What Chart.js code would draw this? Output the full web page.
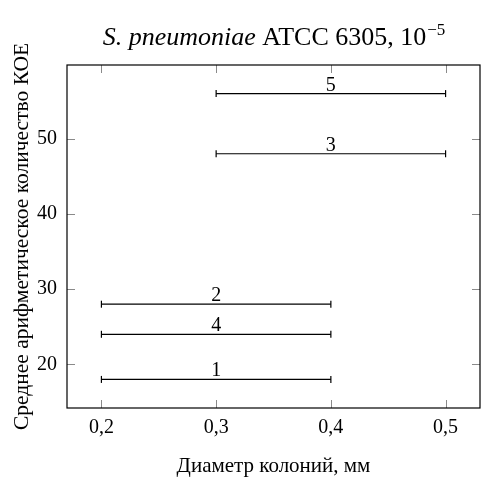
<!DOCTYPE html>
<html>
<head>
<meta charset="utf-8">
<script src="https://cdn.jsdelivr.net/npm/chart.js@4.4.1/dist/chart.umd.min.js"></script>
<style>
  html, body { margin: 0; padding: 0; background: #fff; }
  #wrap { width: 483px; height: 477px; }
</style>
</head>
<body>
<div id="wrap"><canvas id="chart"></canvas></div>
<script>
// interval data
const seriesLabels = ['1', '2', '3', '4', '5'];
const yValues = [18, 28, 48, 24, 56];
const xStart = [0.2, 0.2, 0.3, 0.2, 0.3];
const xEnd = [0.4, 0.4, 0.5, 0.4, 0.5];

const xTicks = [0.2, 0.3, 0.4, 0.5];
const yTicks = [20, 30, 40, 50];

const SERIF = "'Liberation Serif', 'DejaVu Serif', serif";

const datasets = seriesLabels.map((lab, i) => ({
    label: lab,
    data: [{ x: xStart[i], y: yValues[i] }, { x: xEnd[i], y: yValues[i] }],
    showLine: true,
    borderColor: '#000',
    borderWidth: 1.2,
    pointStyle: 'line',
    rotation: 90,
    pointRadius: 3.5,
    pointBorderColor: '#000',
    pointBorderWidth: 1.2,
    pointHoverRadius: 3.5
}));

// frame, inner ticks, labels and titles
const decorations = {
    id: 'decorations',
    afterDatasetsDraw(chart) {
        const ctx = chart.ctx;
        const a = chart.chartArea;
        const xs = chart.scales.x, ys = chart.scales.y;
        ctx.save();

        // inner tick marks on all four sides
        ctx.strokeStyle = '#8a8a8a';
        ctx.lineWidth = 1;
        const t = 8;
        ctx.beginPath();
        xTicks.forEach(v => {
            const px = Math.round(xs.getPixelForValue(v)) + 0.5;
            ctx.moveTo(px, a.bottom); ctx.lineTo(px, a.bottom - t);
            ctx.moveTo(px, a.top); ctx.lineTo(px, a.top + t);
        });
        yTicks.forEach(v => {
            const py = Math.round(ys.getPixelForValue(v)) + 0.5;
            ctx.moveTo(a.left, py); ctx.lineTo(a.left + t, py);
            ctx.moveTo(a.right, py); ctx.lineTo(a.right - t, py);
        });
        ctx.stroke();

        // frame
        ctx.strokeStyle = '#000';
        ctx.lineWidth = 1.2;
        ctx.strokeRect(a.left, a.top, a.right - a.left, a.bottom - a.top);

        // series labels above the middle of each interval
        ctx.fillStyle = '#000';
        ctx.font = '20px ' + SERIF;
        ctx.textAlign = 'center';
        ctx.textBaseline = 'alphabetic';
        seriesLabels.forEach((lab, i) => {
            const mx = xs.getPixelForValue((xStart[i] + xEnd[i]) / 2);
            const my = ys.getPixelForValue(yValues[i]);
            ctx.fillText(lab, mx, my - 3);
        });

        // axis titles
        ctx.textBaseline = 'middle';
        ctx.font = '21px ' + SERIF;
        ctx.fillText('Диаметр колоний, мм', (a.left + a.right) / 2, 466);
        ctx.save();
        ctx.translate(22, (a.top + a.bottom) / 2);
        ctx.rotate(-Math.PI / 2);
        ctx.font = '21.5px ' + SERIF;
        ctx.fillText('Среднее арифметическое количество КОЕ', 0, 0);
        ctx.restore();

        // chart title with italic species name and superscript
        const p1 = 'S. pneumoniae', p2 = ' ATCC 6305, 10', p3 = '−5';
        const f1 = 'italic 26px ' + SERIF, f2 = '26px ' + SERIF, f3 = '17px ' + SERIF;
        ctx.font = f1; const w1 = ctx.measureText(p1).width;
        ctx.font = f2; const w2 = ctx.measureText(p2).width;
        ctx.font = f3; const w3 = ctx.measureText(p3).width;
        let x0 = (a.left + a.right) / 2 - (w1 + w2 + w3) / 2;
        const by = 45;
        ctx.textAlign = 'left';
        ctx.textBaseline = 'alphabetic';
        ctx.font = f1; ctx.fillText(p1, x0, by); x0 += w1;
        ctx.font = f2; ctx.fillText(p2, x0, by); x0 += w2;
        ctx.font = f3; ctx.fillText(p3, x0 + 1, by - 10);
        ctx.restore();
    }
};

new Chart(document.getElementById('chart'), {
    type: 'scatter',
    data: { datasets },
    options: {
        responsive: true,
        maintainAspectRatio: false,
        animation: false,
        layout: { autoPadding: false, padding: { top: 65, right: 3, left: 0, bottom: 0 } },
        plugins: {
            legend: { display: false },
            tooltip: { enabled: false },
            title: { display: false }
        },
        scales: {
            x: {
                type: 'linear',
                min: 0.17,
                max: 0.53,
                afterBuildTicks: s => { s.ticks = xTicks.map(v => ({ value: v })); },
                afterFit: s => { s.height = 69; },
                grid: { display: false, drawTicks: false },
                border: { display: false },
                ticks: {
                    padding: 8,
                    color: '#000',
                    font: { family: SERIF, size: 20 },
                    callback: v => v.toFixed(1).replace('.', ',')
                }
            },
            y: {
                type: 'linear',
                min: 14.2,
                max: 59.8,
                afterBuildTicks: s => { s.ticks = yTicks.map(v => ({ value: v })); },
                afterFit: s => { s.width = 67; },
                grid: { display: false, drawTicks: false },
                border: { display: false },
                ticks: {
                    padding: 10,
                    color: '#000',
                    font: { family: SERIF, size: 20 }
                }
            }
        }
    },
    plugins: [decorations]
});
</script>
</body>
</html>
